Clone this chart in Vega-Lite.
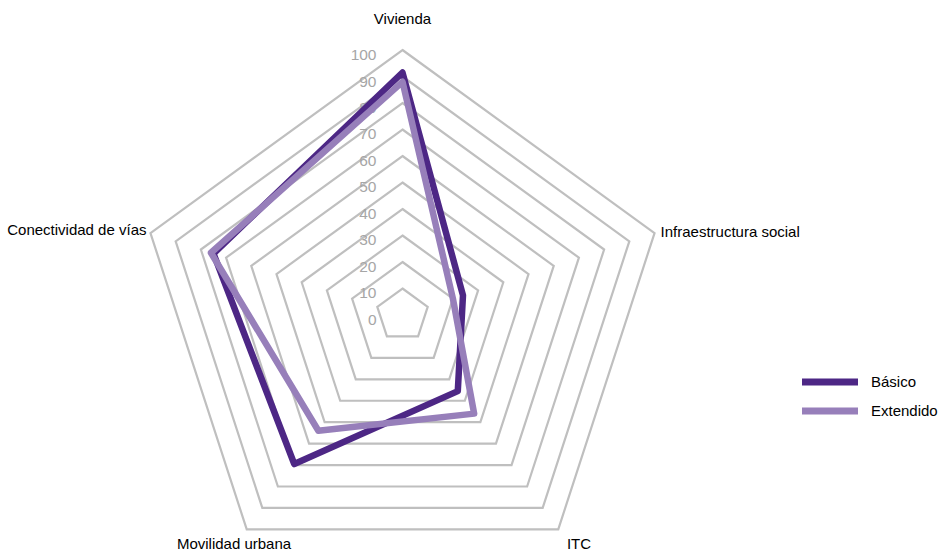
{
  "$schema": "https://vega.github.io/schema/vega-lite/v6.json",
  "width": 939,
  "height": 551,
  "padding": 0,
  "autosize": {"type": "none"},
  "background": "white",
  "config": {"view": {"stroke": null}, "font": "Liberation Sans"},
  "datasets": {
    "series": [
      {"axis": "Vivienda", "k": 0, "serie": "Básico", "value": 91.5},
      {"axis": "Infraestructura social", "k": 1, "serie": "Básico", "value": 24},
      {"axis": "ITC", "k": 2, "serie": "Básico", "value": 35.5},
      {"axis": "Movilidad urbana", "k": 3, "serie": "Básico", "value": 69.5},
      {"axis": "Conectividad de vías", "k": 4, "serie": "Básico", "value": 75},
      {"axis": "Vivienda", "k": 0, "serie": "Extendido", "value": 88},
      {"axis": "Infraestructura social", "k": 1, "serie": "Extendido", "value": 20},
      {"axis": "ITC", "k": 2, "serie": "Extendido", "value": 46},
      {"axis": "Movilidad urbana", "k": 3, "serie": "Extendido", "value": 54},
      {"axis": "Conectividad de vías", "k": 4, "serie": "Extendido", "value": 76}
    ],
    "rings": [
      {"level": 10, "k": [0, 1, 2, 3, 4]},
      {"level": 20, "k": [0, 1, 2, 3, 4]},
      {"level": 30, "k": [0, 1, 2, 3, 4]},
      {"level": 40, "k": [0, 1, 2, 3, 4]},
      {"level": 50, "k": [0, 1, 2, 3, 4]},
      {"level": 60, "k": [0, 1, 2, 3, 4]},
      {"level": 70, "k": [0, 1, 2, 3, 4]},
      {"level": 80, "k": [0, 1, 2, 3, 4]},
      {"level": 90, "k": [0, 1, 2, 3, 4]},
      {"level": 100, "k": [0, 1, 2, 3, 4]}
    ],
    "ticks": [
      {"level": 0}, {"level": 10}, {"level": 20}, {"level": 30}, {"level": 40},
      {"level": 50}, {"level": 60}, {"level": 70}, {"level": 80}, {"level": 90}, {"level": 100}
    ],
    "labels": [
      {"axis": "Vivienda", "k": 0},
      {"axis": "Infraestructura social", "k": 1},
      {"axis": "ITC", "k": 2},
      {"axis": "Movilidad urbana", "k": 3},
      {"axis": "Conectividad de vías", "k": 4}
    ]
  },
  "layer": [
    {
      "data": {"name": "rings"},
      "transform": [
        {"flatten": ["k"]},
        {"calculate": "datum.k * 2 * PI / 5", "as": "ang"},
        {"calculate": "datum.level * sin(datum.ang)", "as": "px"},
        {"calculate": "datum.level * cos(datum.ang)", "as": "py"}
      ],
      "mark": {"type": "line", "interpolate": "linear-closed", "stroke": "#bfbfbf", "strokeWidth": 2.2, "strokeJoin": "miter"},
      "encoding": {
        "x": {"field": "px", "type": "quantitative", "scale": {"domain": [-151.887, 202.453], "nice": false, "zero": false}, "axis": null},
        "y": {"field": "py", "type": "quantitative", "scale": {"domain": [-89.057, 118.868], "nice": false, "zero": false}, "axis": null},
        "detail": {"field": "level", "type": "nominal"},
        "order": {"field": "k", "type": "quantitative"}
      }
    },
    {
      "data": {"name": "ticks"},
      "mark": {"type": "text", "align": "right", "baseline": "middle", "dx": -26, "dy": 5, "fontSize": 15.5, "color": "#a6a6a6"},
      "encoding": {
        "x": {"datum": 0, "type": "quantitative"},
        "y": {"field": "level", "type": "quantitative"},
        "text": {"field": "level", "type": "quantitative"}
      }
    },
    {
      "data": {"name": "series"},
      "mark": {"type": "line", "interpolate": "linear-closed", "strokeWidth": 6.5, "strokeJoin": "round", "strokeCap": "round"},
      "transform": [
        {"calculate": "datum.k * 2 * PI / 5", "as": "ang"},
        {"calculate": "datum.value * sin(datum.ang)", "as": "px"},
        {"calculate": "datum.value * cos(datum.ang)", "as": "py"}
      ],
      "encoding": {
        "x": {"field": "px", "type": "quantitative"},
        "y": {"field": "py", "type": "quantitative"},
        "color": {
          "field": "serie", "type": "nominal",
          "scale": {"domain": ["Básico", "Extendido"], "range": ["#4d2785", "#977fba"]},
          "sort": ["Extendido", "Básico"],
          "legend": {
            "title": null,
            "orient": "none",
            "legendX": 819.5,
            "legendY": 371.5,
            "symbolType": "M-4,0H4",
            "symbolSize": 196,
            "symbolStrokeWidth": 7,
            "labelFontSize": 15,
            "labelColor": "#000000",
            "labelOffset": 30.5,
            "rowPadding": 0,
            "values": ["Básico", "Extendido"]
          }
        },
        "order": {"field": "k", "type": "quantitative"}
      }
    },
    {
      "data": {"name": "labels"},
      "transform": [
        {"filter": "datum.k == 0"},
        {"calculate": "datum.k * 2 * PI / 5", "as": "ang"},
        {"calculate": "100 * sin(datum.ang)", "as": "px"},
        {"calculate": "100 * cos(datum.ang)", "as": "py"}
      ],
      "mark": {"type": "text", "align": "center", "baseline": "alphabetic", "dy": -26.5, "fontSize": 15, "color": "#000000"},
      "encoding": {"x": {"field": "px", "type": "quantitative"}, "y": {"field": "py", "type": "quantitative"}, "text": {"field": "axis"}}
    },
    {
      "data": {"name": "labels"},
      "transform": [
        {"filter": "datum.k == 1"},
        {"calculate": "datum.k * 2 * PI / 5", "as": "ang"},
        {"calculate": "100 * sin(datum.ang)", "as": "px"},
        {"calculate": "100 * cos(datum.ang)", "as": "py"}
      ],
      "mark": {"type": "text", "align": "left", "baseline": "alphabetic", "dx": 6, "dy": 4, "fontSize": 15, "color": "#000000"},
      "encoding": {"x": {"field": "px", "type": "quantitative"}, "y": {"field": "py", "type": "quantitative"}, "text": {"field": "axis"}}
    },
    {
      "data": {"name": "labels"},
      "transform": [
        {"filter": "datum.k == 4"},
        {"calculate": "datum.k * 2 * PI / 5", "as": "ang"},
        {"calculate": "100 * sin(datum.ang)", "as": "px"},
        {"calculate": "100 * cos(datum.ang)", "as": "py"}
      ],
      "mark": {"type": "text", "align": "right", "baseline": "alphabetic", "dx": -4, "dy": 2, "fontSize": 15, "color": "#000000"},
      "encoding": {"x": {"field": "px", "type": "quantitative"}, "y": {"field": "py", "type": "quantitative"}, "text": {"field": "axis"}}
    },
    {
      "data": {"name": "labels"},
      "transform": [
        {"filter": "datum.k == 3"},
        {"calculate": "datum.k * 2 * PI / 5", "as": "ang"},
        {"calculate": "100 * sin(datum.ang)", "as": "px"},
        {"calculate": "100 * cos(datum.ang)", "as": "py"}
      ],
      "mark": {"type": "text", "align": "center", "baseline": "alphabetic", "dx": -12.7, "dy": 19.5, "fontSize": 15, "color": "#000000"},
      "encoding": {"x": {"field": "px", "type": "quantitative"}, "y": {"field": "py", "type": "quantitative"}, "text": {"field": "axis"}}
    },
    {
      "data": {"name": "labels"},
      "transform": [
        {"filter": "datum.k == 2"},
        {"calculate": "datum.k * 2 * PI / 5", "as": "ang"},
        {"calculate": "100 * sin(datum.ang)", "as": "px"},
        {"calculate": "100 * cos(datum.ang)", "as": "py"}
      ],
      "mark": {"type": "text", "align": "center", "baseline": "alphabetic", "dx": 20.7, "dy": 19.5, "fontSize": 15, "color": "#000000"},
      "encoding": {"x": {"field": "px", "type": "quantitative"}, "y": {"field": "py", "type": "quantitative"}, "text": {"field": "axis"}}
    }
  ]
}
